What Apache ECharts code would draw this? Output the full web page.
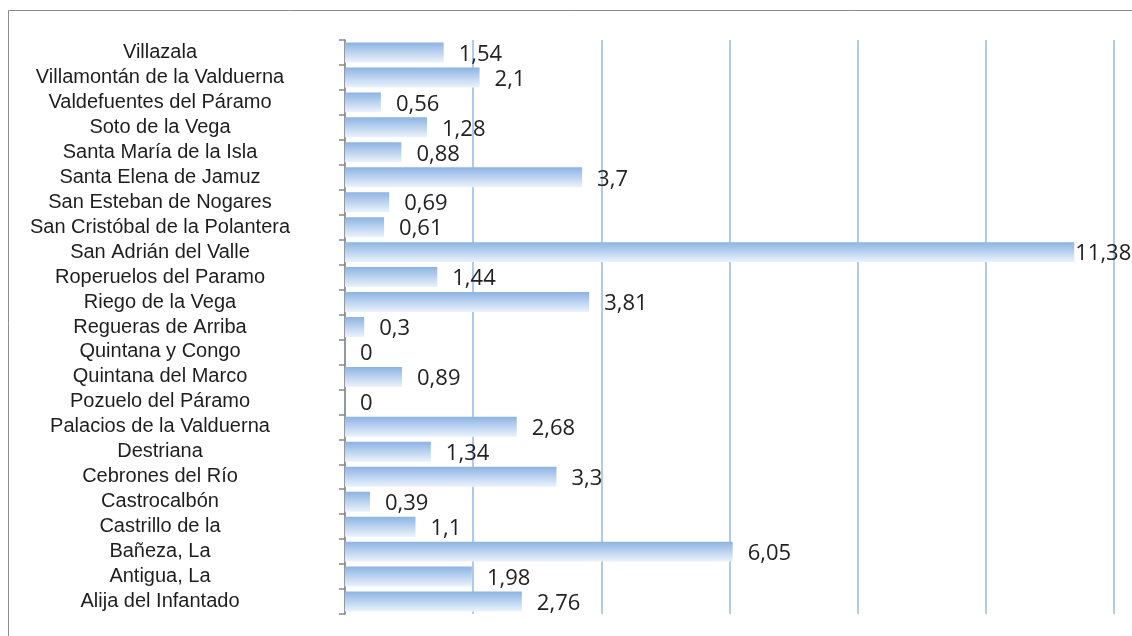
<!DOCTYPE html>
<html>
<head>
<meta charset="utf-8">
<script src="https://cdn.jsdelivr.net/npm/echarts@6/dist/echarts.min.js"></script>
<style>
  html, body { margin: 0; padding: 0; background: #fff; }
  #chart { width: 1132px; height: 636px; }
</style>
</head>
<body>
<div id="chart"></div>
<script>
// municipios, de arriba a abajo
var categories = [
  'Villazala', 'Villamontán de la Valduerna', 'Valdefuentes del Páramo', 'Soto de la Vega',
  'Santa María de la Isla', 'Santa Elena de Jamuz', 'San Esteban de Nogares',
  'San Cristóbal de la Polantera', 'San Adrián del Valle', 'Roperuelos del Paramo',
  'Riego de la Vega', 'Regueras de Arriba', 'Quintana y Congo', 'Quintana del Marco',
  'Pozuelo del Páramo', 'Palacios de la Valduerna', 'Destriana', 'Cebrones del Río',
  'Castrocalbón', 'Castrillo de la', 'Bañeza, La', 'Antigua, La', 'Alija del Infantado'
];
var values = [
  1.54, 2.1, 0.56, 1.28, 0.88, 3.7, 0.69, 0.61, 11.38, 1.44, 3.81, 0.3, 0,
  0.89, 0, 2.68, 1.34, 3.3, 0.39, 1.1, 6.05, 1.98, 2.76
];

var maxVal = Math.max.apply(null, values);
var barData = values.map(function (v) {
  return { value: v, label: { distance: v === maxVal ? 1 : 15 } };
});

var myChart = echarts.init(document.getElementById('chart'));

var option = {
  animation: false,
  backgroundColor: '#fff',
  // marco exterior
  graphic: [{
    type: 'rect',
    shape: { x: 8.5, y: 10.5, width: 1200, height: 700 },
    style: { fill: 'none', stroke: '#8c8c8c', lineWidth: 1 },
    silent: true
  }],
  grid: { left: 345, right: 18, top: 40, bottom: 22 },
  xAxis: {
    type: 'value',
    min: 0,
    max: 12,
    interval: 2,
    axisLabel: { show: false },
    axisLine: { show: false },
    axisTick: { show: false },
    splitLine: { lineStyle: { color: '#95b9e4', width: 1.5 } }
  },
  yAxis: {
    type: 'category',
    inverse: true,
    data: categories,
    axisLine: { show: true, lineStyle: { color: '#888', width: 1.5 } },
    axisTick: { show: true, interval: 0, length: 6, lineStyle: { color: '#888', width: 1.5 } },
    axisLabel: {
      interval: 0,
      hideOverlap: false,
      align: 'center',
      margin: 185,
      color: '#1e1e1e',
      fontFamily: 'Liberation Sans',
      fontSize: 20
    }
  },
  series: [{
    type: 'bar',
    data: barData,
    barCategoryGap: '20%',
    itemStyle: {
      color: new echarts.graphic.LinearGradient(0, 0, 0, 1, [
        { offset: 0, color: '#8cb3e2' },
        { offset: 0.5, color: '#bcd3f0' },
        { offset: 1, color: '#ebf3fc' }
      ])
    },
    label: {
      show: true,
      position: 'right',
      offset: [0, 2],
      color: '#222',
      fontFamily: 'Open Sans',
      fontSize: 22,
      formatter: function (p) {
        return String(p.value).replace('.', ',');
      }
    }
  }]
};

myChart.setOption(option);
</script>
</body>
</html>
